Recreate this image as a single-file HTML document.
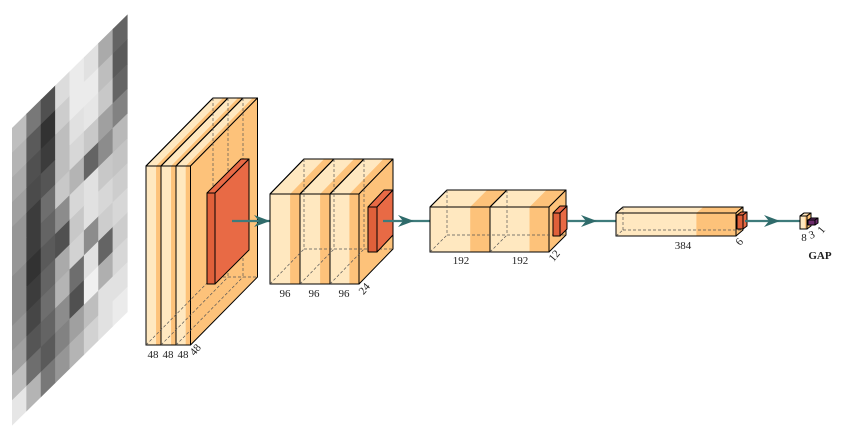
<!DOCTYPE html>
<html><head><meta charset="utf-8"><style>
html,body{margin:0;padding:0;background:#fff;}
svg{display:block;font-family:"Liberation Serif",serif;}
</style></head><body>
<svg id="cnn" width="847" height="443" viewBox="0 0 847 443" xmlns="http://www.w3.org/2000/svg">
<g id="face" transform="matrix(1,-0.983,0,1,12,128)"></g>
<g id="blocks"></g>
</svg>
<script>
const NS='http://www.w3.org/2000/svg';
const faceG=document.getElementById('face');
const blocksG=document.getElementById('blocks');
const faceGray=[
[190,120,80,220,235,225,170,100],
[180,90,50,205,235,235,190,90],
[170,80,60,190,225,230,200,100],
[160,75,85,190,215,200,160,130],
[150,60,110,200,180,100,140,185],
[150,60,100,140,215,225,200,195],
[140,50,90,80,200,225,215,205],
[140,60,100,170,210,140,205,215],
[150,70,110,180,110,225,100,205],
[160,85,100,140,80,240,175,215],
[190,110,90,130,160,190,225,225],
[230,180,120,150,180,210,225,235]];
const layerLabels=[["48","48","48"],["96","96","96"],["192","192"],["384"]];
const depthLabels=["48","24","12","6"];
function mk(tag,attrs,parent){const e=document.createElementNS(NS,tag);for(const k in attrs)e.setAttribute(k,attrs[k]);(parent||blocksG).appendChild(e);return e;}
const cw=115/8,ch=297/12;
faceGray.forEach((row,r)=>row.forEach((g,c)=>{
 const e=mk('rect',{x:c*cw,y:r*ch,width:cw+0.6,height:ch+0.6,fill:`rgb(${g},${g},${g})`},faceG);
 
 
}));
const LIGHT='#FFE8C0',ORANGE='#FDC27A',RED='#E0603A',RED2='#E86A45';
function poly(pts,fill,name,stroke){const e=mk('polygon',{points:pts.map(p=>p.join(',')).join(' '),fill:fill,stroke:stroke||'#000','stroke-width':1,'stroke-linejoin':'round'});return e;}
function line(x1,y1,x2,y2,dash,name){const e=mk('line',{x1,y1,x2,y2,stroke:dash?'#555':'#000','stroke-width':dash?0.7:1,'stroke-dasharray':dash?'3,2':'none'});return e;}
function slab(x,y,w,h,dx,dy,s,name,isLast){
 poly([[x,y],[x+w,y],[x+w+dx,y+dy],[x+dx,y+dy]],LIGHT,name+'-top');
 if(s>0){const sx=x+w*(1-s);poly([[sx,y],[x+w,y],[x+w+dx,y+dy],[sx+dx,y+dy]],ORANGE,name+'-top-stripe','none');
  line(x,y,x+w,y,false,name+'-edge');line(x+w,y,x+w+dx,y+dy,false,name+'-edge');line(x+dx,y+dy,x+w+dx,y+dy,false,name+'-edge');line(x,y,x+dx,y+dy,false,name+'-edge');}
 if(isLast) poly([[x+w,y],[x+w+dx,y+dy],[x+w+dx,y+h+dy],[x+w,y+h]],ORANGE,name+'-side');
 const f=mk('rect',{x,y,width:w,height:h,fill:LIGHT,stroke:'none'});
 if(s>0){const st=mk('rect',{x:x+w*(1-s),y,width:w*s,height:h,fill:ORANGE});}
 const o=mk('rect',{x,y,width:w,height:h,fill:'none',stroke:'#000','stroke-width':1});
}
function hidden(x,y,w,h,dx,dy,name){
 line(x,y+h,x+dx,y+h+dy,true,name+'-hidden');
 line(x+dx,y+dy,x+dx,y+h+dy,true,name+'-hidden');
 line(x+dx,y+h+dy,x+w+dx,y+h+dy,true,name+'-hidden');
}
function block(x0,y,widths,h,dx,dy,s,name){
 let x=x0;widths.forEach((w,i)=>{slab(x,y,w,h,dx,dy,s,name+'-slab'+(i+1),i===widths.length-1);x+=w;});
 x=x0;widths.forEach((w,i)=>{hidden(x,y,w,h,dx,dy,name+'-slab'+(i+1));x+=w;});
}
function pool(x,y,w,h,dx,dy,name,col){
 poly([[x,y],[x+w,y],[x+w+dx,y+dy],[x+dx,y+dy]],col||RED2,name+'-top');
 poly([[x+w,y],[x+w+dx,y+dy],[x+w+dx,y+h+dy],[x+w,y+h]],col||RED2,name+'-side');
 poly([[x,y],[x+w,y],[x+w,y+h],[x,y+h]],col||RED,name+'-front');
}
function arrow(x1,x2,y,hx,name){
 const g=mk('g',{});
 mk('line',{x1,y1:y,x2,y2:y,stroke:'#3E7B7B','stroke-width':2.2},g);
 mk('path',{d:`M${hx-12},${y-6} L${hx+4},${y} L${hx-12},${y+6} L${hx-7},${y} Z`,fill:'#2F6B6B'},g);
}
function text(x,y,t,name,rot,bold){const e=mk('text',{x,y,'font-size':11,'text-anchor':'middle',fill:'#222'});if(rot)e.setAttribute('transform',`rotate(${rot},${x},${y})`);if(bold){e.setAttribute('font-weight','bold');}e.textContent=t;return e;}

block(146,166,[15,15,14.5],179,67,-68,0.33,'conv1');
pool(207,193,8,91,34,-34,'pool1');
arrow(232,288,221,266,'arrow-1');
block(270,194,[30,30,29],90,34,-35,0.33,'conv2');
pool(368,207,9,45,16,-17,'pool2');
arrow(383,440,221,410,'arrow-2');
block(430,207,[60,59],45,17,-17,0.33,'conv3');
pool(553,213,7,23,7,-7,'pool3');
arrow(567,619,221,593,'arrow-3');
block(616,213,[120],23,7,-6,0.33,'conv4');
pool(737,215,6,14,4,-3,'pool4');
arrow(745,801,221,776,'arrow-4');
slab(800,216,7,13,4,-3,0.3,'gap-box',true);
pool(808,220,7,5,3,-2,'gap-output','#6B2A6B');

[[153,358],[168,358],[183,358]].forEach((p,i)=>text(p[0],p[1],layerLabels[0][i],'conv1-label-'+(i+1)));
text(198,352,depthLabels[0],'conv1-depth-label',-50);
[[285,297],[314,297],[344,297]].forEach((p,i)=>text(p[0],p[1],layerLabels[1][i],'conv2-label-'+(i+1)));
text(367,291,depthLabels[1],'conv2-depth-label',-50);
[[461,264],[520,264]].forEach((p,i)=>text(p[0],p[1],layerLabels[2][i],'conv3-label-'+(i+1)));
text(557,258,depthLabels[2],'conv3-depth-label',-50);
text(683,249,layerLabels[3][0],'conv4-label');
text(742,244,depthLabels[3],'conv4-depth-label',-50);
text(804,241,'8','gap-label-8');
text(813,238,'3','gap-label-3',-20);
text(824,232,'1','gap-label-1',-50);
text(820,259,'GAP','gap-title',0,true);
</script>
</body></html>
